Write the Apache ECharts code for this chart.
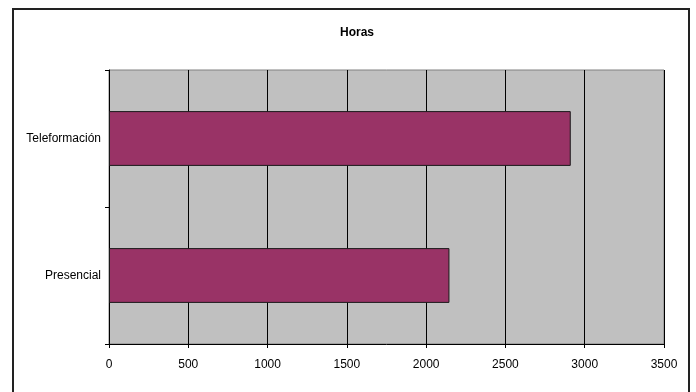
<!DOCTYPE html>
<html>
<head>
<meta charset="utf-8">
<script src="https://cdn.jsdelivr.net/npm/echarts@6/dist/echarts.min.js"></script>
<style>
html,body{margin:0;padding:0;background:#fff;}
#c{width:696px;height:392px;}
</style>
</head>
<body>
<div id="c"></div>
<script>
var categories = ['Presencial', 'Teleformación'];
var hours = [2147, 2912];
var xTicks = [0, 500, 1000, 1500, 2000, 2500, 3000, 3500];
var chartTitle = 'Horas';

var chart = echarts.init(document.getElementById('c'), null, {renderer: 'canvas'});
var font = 'Liberation Sans, Arial, sans-serif';
chart.setOption({
  animation: false,
  backgroundColor: '#ffffff',
  title: {
    text: chartTitle,
    left: 352, top: 22, textAlign: 'center',
    textStyle: {fontFamily: font, fontSize: 12, fontWeight: 'bold', color: '#000'}
  },
  graphic: [{
    type: 'rect', silent: true, z: 100,
    shape: {x: 13, y: 9, width: 676, height: 420},
    style: {fill: 'none', stroke: '#222', lineWidth: 2}
  }],
  grid: {
    left: 109, right: 32, top: 70, bottom: 48,
    show: true, backgroundColor: '#c0c0c0', borderColor: '#808080', borderWidth: 1
  },
  xAxis: {
    type: 'value', min: xTicks[0], max: xTicks[xTicks.length - 1], interval: 500,
    axisLine: {show: true, lineStyle: {color: '#000', width: 1}},
    axisTick: {show: true, length: 4, lineStyle: {color: '#000'}},
    splitLine: {show: true, lineStyle: {color: '#000', width: 1}},
    axisLabel: {color: '#000', fontFamily: font, fontSize: 12, margin: 15,
      formatter: function (v) { return String(v); }}
  },
  yAxis: {
    type: 'category', data: categories,
    axisLine: {show: true, lineStyle: {color: '#000', width: 1}},
    axisTick: {show: true, length: 4, lineStyle: {color: '#000'}},
    splitLine: {show: false},
    axisLabel: {color: '#000', fontFamily: font, fontSize: 12, margin: 8}
  },
  series: [{
    type: 'bar', data: hours, barWidth: '40%',
    itemStyle: {color: '#993366', borderColor: '#1a1a1a', borderWidth: 1}
  }]
});
</script>
</body>
</html>
